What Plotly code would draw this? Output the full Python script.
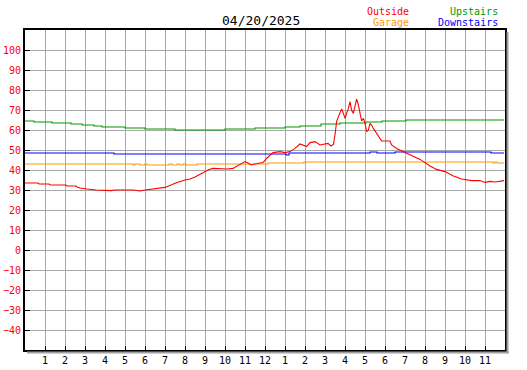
import plotly.graph_objects as go

# ---- data (hours since midnight, degrees) ----
outside_t = [0.0, 0.65, 0.7, 1.2, 1.25, 2.05, 2.1, 2.55, 2.6, 2.75, 3.1, 3.55, 4.3, 4.5, 5.4, 5.75, 6.0, 6.2, 6.6, 7.0,
             7.3, 7.6, 8.0, 8.25, 8.5, 8.8, 9.2, 9.4, 9.75, 10.1, 10.4, 10.7, 11.0, 11.15, 11.3, 11.5, 11.7, 11.9, 12.1,
             12.25, 12.4, 12.75, 13.0, 13.25, 13.5, 13.75, 13.9, 14.08, 14.25, 14.5, 14.75, 14.9, 15.15, 15.3, 15.42,
             15.5, 15.58, 15.67, 15.75, 15.83, 15.92, 16.0, 16.08, 16.17, 16.25, 16.33, 16.42, 16.5, 16.58, 16.67,
             16.75, 16.83, 16.92, 17.0, 17.08, 17.17, 17.25, 17.33, 17.42, 17.58, 17.75, 17.83, 18.25, 18.33, 18.58,
             18.83, 19.08, 19.42, 19.75, 20.0, 20.25, 20.58, 21.0, 21.42, 21.83, 22.33, 22.75, 23.0, 23.25, 23.5, 23.95]
outside_v = [33.5, 33.5, 33, 33, 32.5, 32.5, 32, 32, 31.5, 31, 30.5, 30, 29.7, 30, 30, 29.5, 30, 30.3, 30.8, 31.3,
             32.5, 33.8, 35, 35.5, 36.5, 38.3, 40.3, 40.8, 40.5, 40.5, 40.8, 42.5, 44.2, 43.5, 42.5, 43, 43.3, 43.7, 46,
             47.5, 48.7, 49.2, 48.7, 49.2, 50.8, 53, 52.5, 51.7, 53.7, 54.2, 52.5, 52.8, 53.3, 52, 52.8,
             57.5, 64.2, 66.7, 69.2, 70.5, 68.3, 65.8, 68.3, 70.8, 74.2, 70, 68.3, 72.5, 75.5, 72.5,
             67.5, 64.5, 65.8, 63.3, 59.2, 60, 63.3, 62.5, 60.8, 58.3, 55.8, 54.5, 54.5, 52.5, 50.8,
             49.7, 48.3, 47, 45.3, 43.7, 42, 40.3, 39.2, 37, 35.5, 34.7, 34.7, 33.8, 34.3, 34, 34.7]

garage_t = [0, 5.4, 5.5, 5.75, 6.0, 6.1, 7.2, 7.35, 7.6, 7.75, 7.9, 8.05, 8.6, 12.15, 13.95, 23.4, 23.5, 23.6, 23.95]
garage_v = [43, 42.5, 43, 42.5, 43, 42.5, 43, 42.5, 43, 42.5, 43, 42.5, 43, 43.5, 44, 43.5, 44, 43.5, 43.5]

upstairs_t = [0, 0.45, 1.35, 2.3, 2.85, 3.45, 3.85, 5.0, 6.0, 7.5, 10.0, 11.5, 13.0, 13.75, 14.8, 15.75, 17.05,
              17.85, 19.05, 23.95]
upstairs_v = [64.5, 64, 63.5, 63, 62.5, 62, 61.5, 61, 60.5, 60, 60.5, 61, 61.5, 62, 63, 63.5, 64, 64.5, 65, 65]

downstairs_t = [0, 4.45, 13.05, 13.2, 17.25, 17.6, 18.5, 23.3, 23.95]
downstairs_v = [48.5, 48, 47.5, 48.5, 49, 48.5, 49, 48.5, 48.5]

hour_ticks = list(range(1, 24))
hour_labels = [str(h) for h in range(1, 13)] + [str(h) for h in range(1, 12)]
temp_ticks = list(range(-40, 101, 10))
title_text = "04/20/2025"

FONT = "DejaVu Sans Mono"
RED, ORANGE, GREEN, BLUE = "#ff0000", "#ff9900", "#009900", "#0000ff"

fig = go.Figure()
fig.add_trace(go.Scatter(x=garage_t, y=garage_v, mode="lines", line=dict(color=ORANGE, width=1.1, shape="hv")))
fig.add_trace(go.Scatter(x=downstairs_t, y=downstairs_v, mode="lines", line=dict(color=BLUE, width=1.1, shape="hv")))
fig.add_trace(go.Scatter(x=upstairs_t, y=upstairs_v, mode="lines", line=dict(color=GREEN, width=1.1, shape="hv")))
fig.add_trace(go.Scatter(x=outside_t, y=outside_v, mode="lines", line=dict(color=RED, width=1.1)))

fig.update_layout(
    width=527, height=370,
    margin=dict(l=25, r=22, t=30, b=20, autoexpand=False),
    paper_bgcolor="white", plot_bgcolor="white",
    showlegend=False,
    font=dict(family=FONT, size=10, color="black"),
)
fig.update_xaxes(
    range=[0, 24], tickmode="array", tickvals=hour_ticks, ticktext=hour_labels,
    showgrid=True, gridcolor="#a8a8a8", gridwidth=1,
    ticks="inside", ticklen=4, tickcolor="black", tickwidth=1,
    showline=True, linecolor="black", linewidth=2, mirror=True,
    zeroline=False, automargin=False, tickfont=dict(family=FONT, size=10, color="black"),
)
fig.update_yaxes(
    range=[-50, 110], tickmode="array", tickvals=temp_ticks,
    showgrid=True, gridcolor="#a8a8a8", gridwidth=1,
    ticks="inside", ticklen=5, tickcolor="black", tickwidth=1,
    showline=True, linecolor="black", linewidth=2, mirror=True,
    zeroline=False, automargin=False, tickfont=dict(family=FONT, size=10, color=RED),
)

# drop shadow on right and bottom of the plot frame
W, H = 480.0, 320.0
fig.add_shape(type="line", xref="paper", yref="paper", x0=1 + 2.5 / W, x1=1 + 2.5 / W, y0=-3.5 / H, y1=1 - 2 / H,
              line=dict(color="#a0a0a0", width=2))
fig.add_shape(type="line", xref="paper", yref="paper", x0=2 / W, x1=1 + 3.5 / W, y0=-2.5 / H, y1=-2.5 / H,
              line=dict(color="#a0a0a0", width=2))

fig.add_annotation(text=title_text, xref="paper", yref="paper", x=(261 - 25) / W, y=1 + 10 / H,
                   showarrow=False, xanchor="center", yanchor="middle",
                   font=dict(family=FONT, size=13, color="black"))
legend_items = [("Outside", RED, 411, 11), ("Garage", ORANGE, 411, 23),
                ("Upstairs", GREEN, 500, 11), ("Downstairs", BLUE, 500, 23)]
for name, col, xr, yc in legend_items:
    fig.add_annotation(text=name, xref="paper", yref="paper", x=(xr - 25) / W, y=1 + (30 - yc) / H,
                       showarrow=False, xanchor="right", yanchor="middle",
                       font=dict(family=FONT, size=10, color=col))

fig.write_html("out.html", config={"displayModeBar": False},
               post_script="document.body.style.margin='0';")
